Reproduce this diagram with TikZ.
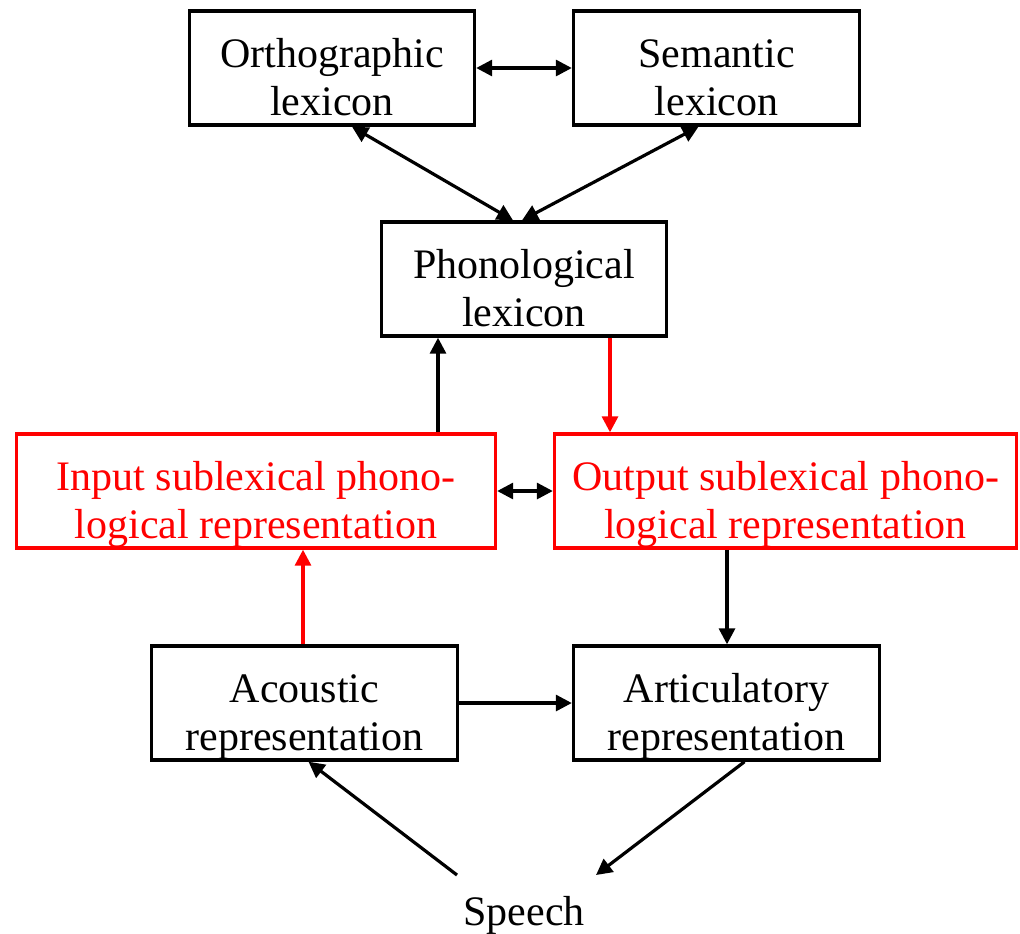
\documentclass[tikz,border=0pt]{standalone}
\usepackage{fontspec}
\setmainfont{Liberation Serif}
\usetikzlibrary{arrows.meta,calc}

\begin{document}
\begin{tikzpicture}[x=0.5pt,y=-0.5pt,
  every node/.style={font=\fontsize{21pt}{24pt}\selectfont},
  box/.style={draw=black,line width=1.7pt,rectangle,align=center,
    minimum height=57pt,inner ysep=0pt,inner xsep=2pt,
    text height=50pt,text depth=3pt},
  redbox/.style={box,draw=red,text=red},
  link/.style={line width=1.6pt,-{Triangle[length=8pt,width=8pt]}},
  both/.style={line width=1.6pt,{Triangle[length=8pt,width=8pt]}-{Triangle[length=8pt,width=8pt]}}
]
\useasboundingbox (0,0) rectangle (1020,933);

% lexicons
\node[box,minimum width=142.5pt] (orth) at (332,68) {Orthographic\\lexicon};
\node[box,minimum width=143pt] (sem) at (716.5,68) {Semantic\\lexicon};
\node[box,minimum width=142.5pt] (phon) at (524,279) {Phonological\\lexicon};

% sublexical representations
\node[redbox,minimum width=239.5pt] (inp) at (256,491) {Input sublexical phono-\\logical representation};
\node[redbox,minimum width=231pt] (out) at (785.5,491) {Output sublexical phono-\\logical representation};

% peripheral representations
\node[box,minimum width=153pt] (acou) at (304.5,703) {Acoustic\\representation};
\node[box,minimum width=153pt] (artic) at (726.5,703) {Articulatory\\representation};

\node[anchor=base] (speech) at (524,925) {Speech};

% helper positions for the vertical links and the speech links
\coordinate (xup) at (438,0);
\coordinate (xred) at (610,0);
\coordinate (xacou) at (303,0);
\coordinate (xartic) at (727,0);
\coordinate (spl) at (457,875);
\coordinate (spr) at (596,875);

% connectors
\draw[both] (orth.east) -- (sem.west);
\draw[both] ([xshift=10pt]orth.south) -- ([xshift=-5.5pt]phon.north);
\draw[both] ([xshift=-9pt]sem.south) -- ([xshift=-1pt]phon.north);

\draw[link] (xup |- inp.north) -- (xup |- phon.south);
\draw[link,red] (xred |- phon.south) -- (xred |- out.north);
\draw[both] (inp.east) -- (out.west);

\draw[link,red] (xacou |- acou.north) -- (xacou |- inp.south);
\draw[link] (xartic |- out.south) -- (xartic |- artic.north);
\draw[link] (acou.east) -- (artic.west);

\draw[link] (spl) -- ([xshift=2pt]acou.south);
\draw[link] ([xshift=9pt]artic.south) -- (spr);
\end{tikzpicture}
\end{document}
